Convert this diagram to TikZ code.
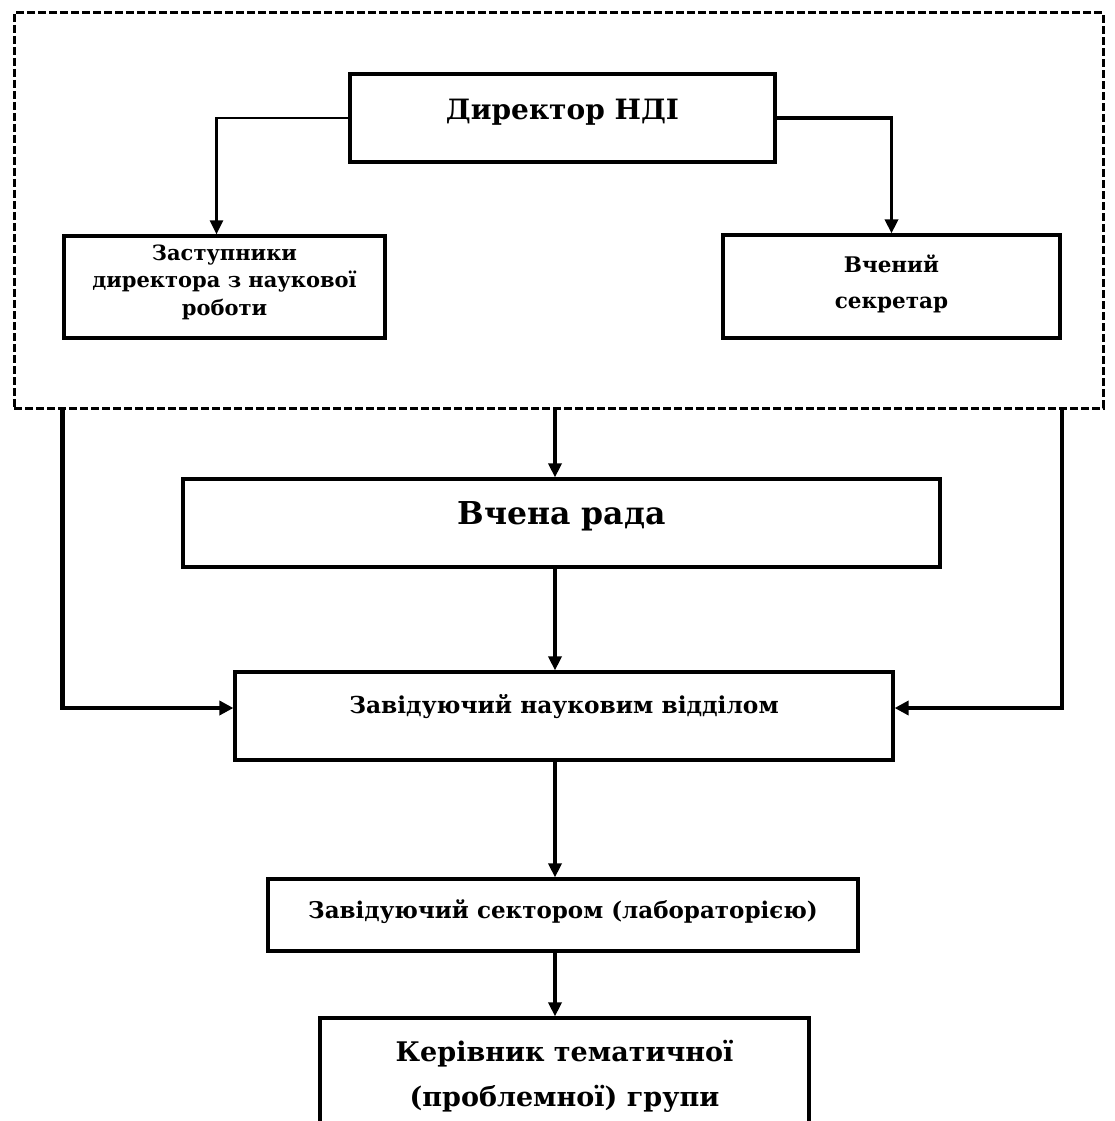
\documentclass[tikz,border=0pt]{standalone}
\usepackage{fontspec}
\setmainfont{DejaVu Serif}
\usetikzlibrary{arrows.meta}
\newcommand{\upby}[2]{\raisebox{#1}[\height][\depth]{#2}}
\begin{document}
\begin{tikzpicture}[x=1pt,y=-1pt,
  box/.style={draw, line width=3.2pt, inner sep=0pt, align=center, font=\bfseries},
  conn/.style={line width=3.4pt, -{Triangle[length=14pt,width=13pt]}},
  thickconn/.style={line width=4.2pt, -{Triangle[length=14pt,width=14pt]}},
  thinconn/.style={line width=2.4pt, -{Triangle[length=14pt,width=13pt]}}]
\useasboundingbox (0,0) rectangle (1115,1121);
\clip (0,0) rectangle (1115,1121);
\fill[white] (0,0) rectangle (1115,1121);

\node[draw, line width=3pt, dash pattern=on 8pt off 3pt, minimum width=1089pt, minimum height=395pt, inner sep=0pt] (grp) at (558.5,210.5) {};

\node[box, minimum width=425pt, minimum height=88pt, font=\bfseries\fontsize{28}{32}\selectfont] (dir) at (562.5,118) {\upby{6pt}{Директор НДІ}};
\node[box, minimum width=321pt, minimum height=102pt, font=\bfseries\fontsize{21}{27.5}\selectfont] (zast) at (224.5,287) {\upby{5pt}{Заступники}\\\upby{5pt}{директора з наукової}\\\upby{5pt}{роботи}};
\node[box, minimum width=337pt, minimum height=103pt, font=\bfseries\fontsize{21.5}{36}\selectfont] (secr) at (891.5,286.5) {\upby{3pt}{Вчений}\\\upby{3pt}{секретар}};

\node[box, minimum width=757pt, minimum height=88pt, font=\bfseries\fontsize{31.5}{34}\selectfont] (rada) at (561.5,523) {\upby{7pt}{Вчена рада}};
\node[box, minimum width=658pt, minimum height=88pt, font=\bfseries\fontsize{23.3}{26}\selectfont] (zav) at (564,716) {\upby{9pt}{Завідуючий науковим відділом}};
\node[box, minimum width=590pt, minimum height=72pt, font=\bfseries\fontsize{23}{26}\selectfont] (sect) at (563,915) {\upby{3pt}{Завідуючий сектором (лабораторією)}};
\node[box, minimum width=489pt, minimum height=116pt, font=\bfseries\fontsize{27}{45}\selectfont] (ker) at (564.5,1076) {Керівник тематичної\\(проблемної) групи};

\coordinate (col) at (555,0);

% inside group
\draw[thinconn] (dir.west) -| ([xshift=-8pt]zast.north);
\draw[conn] (dir.east) -| (secr.north);

% main column
\draw[conn] (grp.south -| col) -- (rada.north -| col);
\draw[conn] (rada.south -| col) -- (zav.north -| col);
\draw[conn] (zav.south -| col) -- (sect.north -| col);
\draw[conn] (sect.south -| col) -- (ker.north -| col);

% side links
\draw[thickconn] (grp.south -| zast.west) |- ([yshift=8pt]zav.west);
\draw[thickconn] (grp.south -| secr.east) |- ([yshift=8pt]zav.east);
\end{tikzpicture}
\end{document}
